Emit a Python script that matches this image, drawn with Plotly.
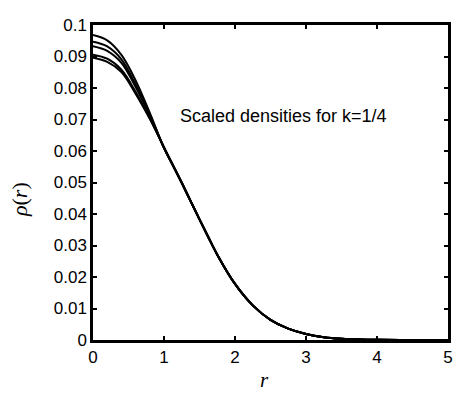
import plotly.graph_objects as go

# Radial positions where curves differ (core) and shared tail
r_core = [0.0, 0.2, 0.4, 0.6, 0.8, 1.0]
rho_core = [
    [0.0968, 0.0951, 0.0905, 0.0824, 0.0721, 0.0609],
    [0.0947, 0.0932, 0.0891, 0.0811, 0.0716, 0.0610],
    [0.0933, 0.0918, 0.0880, 0.0803, 0.0712, 0.0610],
    [0.0906, 0.0893, 0.0858, 0.0788, 0.0704, 0.0611],
    [0.0896, 0.0883, 0.0851, 0.0782, 0.0702, 0.0612],
]
r_tail = [1.125, 1.25, 1.375, 1.5, 1.625, 1.75, 2.0, 2.25, 2.5, 2.75, 3.0,
          3.25, 3.5, 3.75, 4.0, 4.5, 5.0]
rho_tail = [0.0555, 0.0499, 0.0441, 0.0383, 0.0326, 0.0271, 0.0178, 0.0110,
            0.0064, 0.0036, 0.0019, 0.0009, 0.0004, 0.00015, 0.00005, 0.00001, 0.0]

x_ticks = [0, 1, 2, 3, 4, 5]
y_ticks = [0, 0.01, 0.02, 0.03, 0.04, 0.05, 0.06, 0.07, 0.08, 0.09, 0.1]
y_labels = ["0", "0.01", "0.02", "0.03", "0.04", "0.05", "0.06", "0.07", "0.08", "0.09", "0.1"]

fig = go.Figure()
for core in rho_core:
    fig.add_trace(go.Scatter(
        x=r_core + r_tail, y=core + rho_tail, mode="lines",
        line=dict(color="black", width=2, shape="spline", smoothing=1.0),
        showlegend=False, hoverinfo="skip"))

axis_common = dict(
    showline=True, linecolor="black", linewidth=2.5, mirror="ticks",
    ticks="inside", ticklen=4, tickwidth=2, tickcolor="black",
    showgrid=False, zeroline=False,
    tickfont=dict(family="Liberation Sans, Arial", size=17, color="black"),
)

L, R, T, B = 93, 5, 25, 55
W, H = 458, 395
plot_w = W - L - R
plot_h = H - T - B

fig.update_layout(
    width=W, height=H,
    margin=dict(l=L, r=R, t=T, b=B),
    paper_bgcolor="white", plot_bgcolor="white",
    xaxis=dict(range=[0, 5], tickvals=x_ticks, ticktext=[str(v) for v in x_ticks], **axis_common),
    yaxis=dict(range=[0, 0.1], tickvals=y_ticks, ticktext=y_labels, **axis_common),
    annotations=[
        dict(x=2.69, y=0.0711, xref="x", yref="y", text="Scaled densities for k=1/4",
             showarrow=False, xanchor="center", yanchor="middle",
             font=dict(family="Liberation Sans, Arial", size=18, color="black")),
        dict(x=(18 - L) / plot_w, y=(H - B - 200) / plot_h, xref="paper", yref="paper",
             text="<i>ρ</i>(<i>r</i>)",
             showarrow=False, textangle=-90, xanchor="center", yanchor="middle",
             font=dict(family="Liberation Serif, DejaVu Serif", size=22, color="black")),
        dict(x=(267 - L) / plot_w, y=(H - B - 380) / plot_h, xref="paper", yref="paper",
             text="<i>r</i>",
             showarrow=False, xanchor="center", yanchor="middle",
             font=dict(family="Liberation Serif, DejaVu Serif", size=21, color="black")),
    ],
)

fig.write_html("out.html")
